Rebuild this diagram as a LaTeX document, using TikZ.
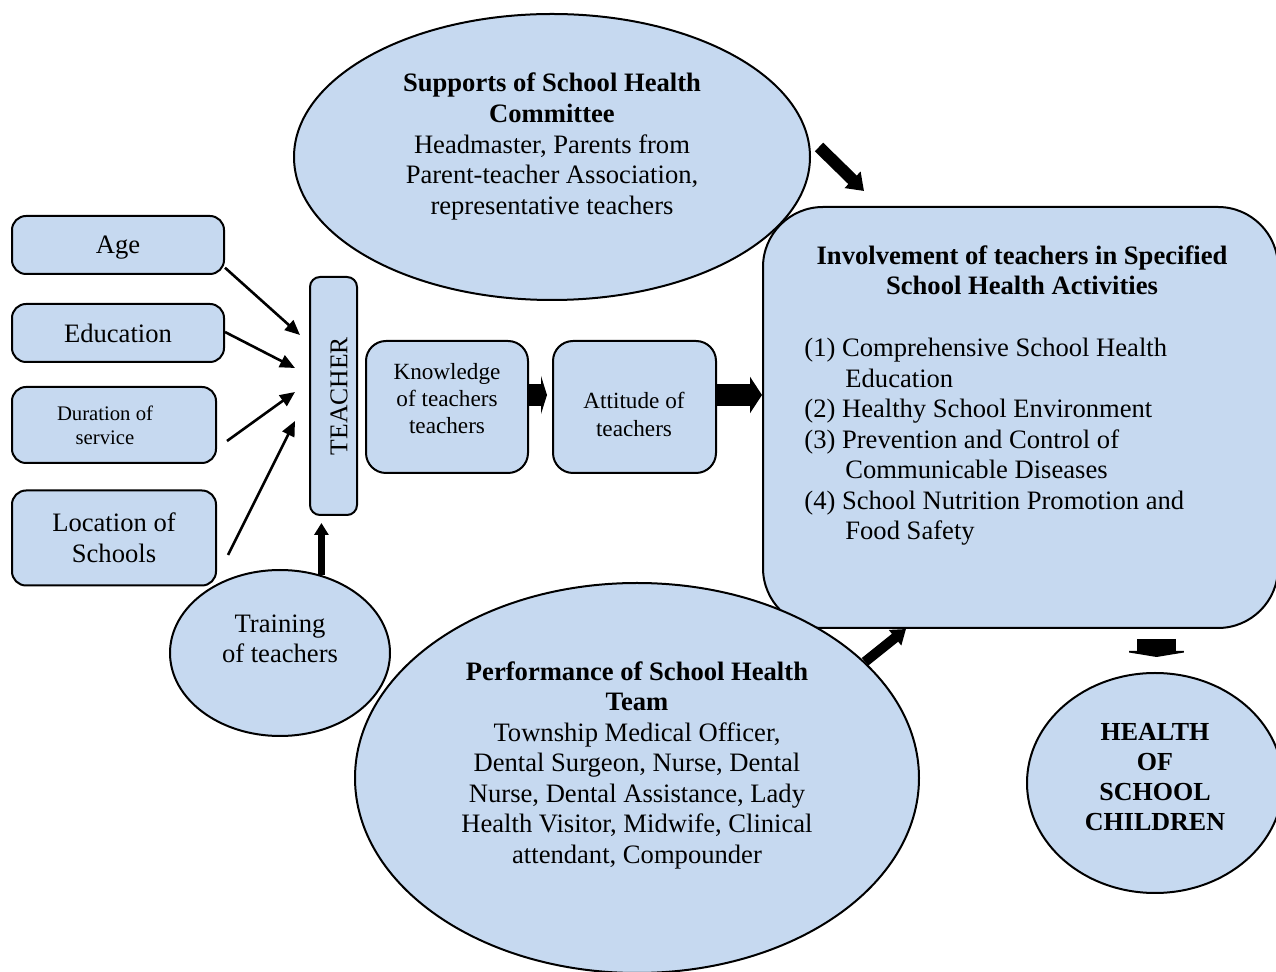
\documentclass[tikz,border=0pt]{standalone}
\usepackage{fontspec}
\setmainfont{Liberation Serif}
\usetikzlibrary{arrows.meta,shapes.geometric}
\definecolor{boxfill}{RGB}{198,217,240}
\begin{document}
\begin{tikzpicture}[x=0.5pt,y=-0.5pt,
  every node/.style={font=\fontsize{13.3}{15.4}\selectfont},
  rbox/.style={draw=black, line width=1pt, fill=boxfill, rounded corners=#1, inner sep=0pt, align=center},
  rbox/.default=7pt,
  ebox/.style={draw=black, line width=1pt, fill=boxfill, ellipse, inner sep=0pt},
  txt/.style={inner sep=0pt, align=center},
  thinarrow/.style={line width=1.3pt, -{Triangle[length=7.5pt,width=6.5pt]}},
]
\useasboundingbox (0,0) rectangle (1276,972);
\clip (0,0) rectangle (1276,972);

% boxes on the left
\node[rbox, minimum width=106pt, minimum height=29pt] (age) at (118,245) {};
\node[txt] (agetxt) at (118,248) {Age};
\node[rbox, minimum width=106pt, minimum height=29pt] (edu) at (118,333) {Education};
\node[rbox, minimum width=102pt, minimum height=38pt] (dur) at (114,425) {};
\node[txt, font=\fontsize{10.35}{12}\selectfont] (durtxt) at (105,425) {Duration of\\service};
\node[rbox, minimum width=102pt, minimum height=47.5pt] (loc) at (114,538) {Location of\\Schools};

% teacher
\node[rbox=5pt, minimum width=23.5pt, minimum height=119pt] (teacher) at (333.5,396) {};
\node[txt, rotate=90, font=\fontsize{12.8}{14}\selectfont] (teachertxt) at (339,396) {TEACHER};

% knowledge, attitude
\node[rbox=10pt, minimum width=81pt, minimum height=66pt] (know) at (447,407) {};
\node[txt, font=\fontsize{11.6}{13.5}\selectfont] (knowtxt) at (447,399) {Knowledge\\of teachers\\teachers};
\node[rbox=10pt, minimum width=81.5pt, minimum height=66pt] (att) at (634.5,407) {};
\node[txt, font=\fontsize{11.6}{14}\selectfont] (atttxt) at (634,414) {Attitude of\\teachers};

% involvement
\node[rbox=30pt, minimum width=257.5pt, minimum height=210.5pt] (inv) at (1020.5,417.5) {};
\node[txt, font=\bfseries\fontsize{13.3}{15}\selectfont] (invtitle) at (1022,270) {Involvement of teachers in Specified\\School Health Activities};
\node[inner sep=0pt, align=left, anchor=north west, font=\fontsize{13.3}{15.25}\selectfont] (invlist) at (804,338)
 {(1) Comprehensive School Health\\\hspace*{20.5pt}Education\\(2) Healthy School Environment\\(3) Prevention and Control of\\\hspace*{20.5pt}Communicable Diseases\\(4) School Nutrition Promotion and\\\hspace*{20.5pt}Food Safety};

% top ellipse
\node[ebox, minimum width=258pt, minimum height=143pt] (supp) at (552,157) {};
\node[txt] (supptxt) at (552,146.5) {\textbf{Supports of School Health}\\\textbf{Committee}\\Headmaster, Parents from\\Parent-teacher Association,\\representative teachers};

% training
\node[ebox, minimum width=110pt, minimum height=83pt] (train) at (280,653) {};
\node[txt, font=\fontsize{13.3}{15}\selectfont] (traintxt) at (280,639) {Training\\of teachers};

% performance
\node[ebox, minimum width=282pt, minimum height=195pt] (perf) at (637,778) {};
\node[txt, font=\fontsize{13.3}{15.25}\selectfont] (perftxt) at (637,765) {\textbf{Performance of School Health}\\\textbf{Team}\\Township Medical Officer,\\Dental Surgeon, Nurse, Dental\\Nurse, Dental Assistance, Lady\\Health Visitor, Midwife, Clinical\\attendant, Compounder};

% health
\node[ebox, minimum width=128pt, minimum height=110pt] (health) at (1155,783) {};
\node[txt, font=\bfseries\fontsize{13}{15}\selectfont] (healthtxt) at (1155,777) {HEALTH\\OF\\SCHOOL\\CHILDREN};

% free ends of the arrows into TEACHER
\coordinate (tA) at (300,335);
\coordinate (tE) at (295,368);
\coordinate (tD) at (295,392);
\coordinate (tL) at (295,421);

\draw[thinarrow] (age.-12) -- (tA);
\draw[thinarrow] ([yshift=0.5pt]edu.east) -- (tE);
\draw[thinarrow] ([xshift=5pt,yshift=-8pt]dur.east) -- (tD);
\draw[thinarrow] ([xshift=5.5pt,yshift=-8.5pt]loc.east) -- (tL);

% training -> teacher
\draw[line width=3.5pt, -{Triangle[length=6pt,width=7pt]}, shorten >=3.5pt]
  (train.62) -- (train.62 |- teacher.south);

% knowledge -> attitude
\draw[line width=11pt, -{Triangle[length=3pt,width=19pt]}, shorten >=2.5pt]
  ([yshift=6pt]know.east) -- ([yshift=6pt]att.west);

% attitude -> involvement
\draw[line width=11pt, -{Triangle[length=6pt,width=18pt]}]
  ([yshift=6pt]att.east) -- ([yshift=6pt]att.east -| inv.west);

% supports -> involvement
\draw[line width=6pt, -{Triangle[length=8pt,width=11pt]}]
  ([xshift=4pt,yshift=5pt]supp.east) -- ([xshift=51pt,yshift=7.5pt]inv.north west);

% performance -> involvement
\draw[line width=5pt, -{Triangle[length=7pt,width=9.5pt]}]
  (perf.27) -- ([xshift=72pt]inv.south west);

% involvement -> health
\draw[line width=19.5pt, -{Triangle[length=3pt,width=36.5pt]}, shorten >=7.5pt]
  ([xshift=68pt,yshift=-5pt]inv.south) -- ([xshift=68pt]inv.south |- health.north);
\end{tikzpicture}
\end{document}
